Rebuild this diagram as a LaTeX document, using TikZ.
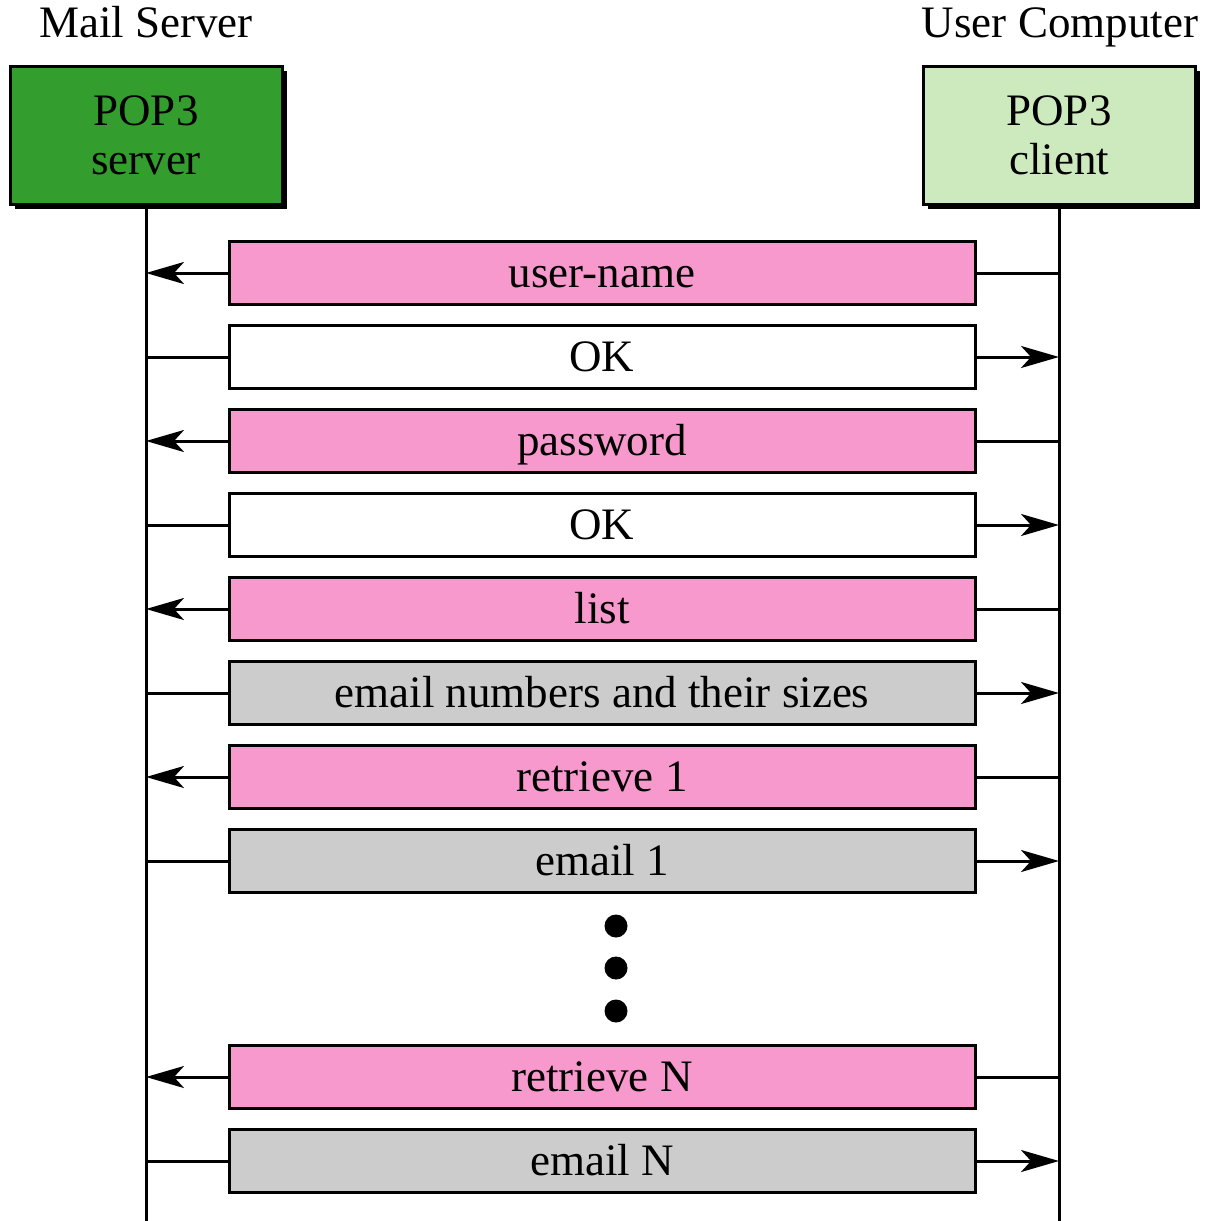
\documentclass[tikz,border=0pt]{standalone}
\usepackage{fontspec}
\setmainfont{Liberation Serif}
\usetikzlibrary{arrows.meta,shadows}
\definecolor{srvgreen}{RGB}{51,158,46}
\definecolor{cligreen}{RGB}{204,234,189}
\definecolor{msgpink}{RGB}{247,153,204}
\definecolor{msggray}{RGB}{204,204,204}
\begin{document}
\begin{tikzpicture}[x=1pt,y=-1pt,
  every node/.style={font=\fontsize{45}{49}\selectfont},
  party/.style={draw=black,line width=3pt,minimum width=272pt,minimum height=138pt,align=center,inner sep=0pt,
    drop shadow={shadow xshift=5pt,shadow yshift=-5pt,fill=black,opacity=1}},
  msg/.style={draw=black,line width=3pt,minimum width=746pt,minimum height=63pt,inner sep=0pt,
    text height=29.5pt,text depth=0pt},
  req/.style={msg,fill=msgpink},
  okmsg/.style={msg,fill=white},
  data/.style={msg,fill=msggray},
  conn/.style={line width=3pt},
  arr/.style={line width=3pt,-{Stealth[length=38pt,width=22pt,inset=10pt]}},
  dot/.style={circle,fill=black,inner sep=0pt,minimum size=23pt}
]
\useasboundingbox (0,0) rectangle (1207,1221);
\node[party,fill=srvgreen] (srv) at (146,135) {POP3\\server};
\node[party,fill=cligreen] (cli) at (1059,135) {POP3\\client};
\node[anchor=base] (tsrv) at (146,37) {Mail Server};
\node[anchor=base] (tcli) at (1060,37) {User Computer};
\coordinate (srvend) at (146,1221);
\coordinate (cliend) at (1059,1221);
\draw[conn] (srv.south) -- (srvend);
\draw[conn] (cli.south) -- (cliend);
% messages
\node[req] (m1) at (602,273) {user-name};
\node[okmsg] (m2) at (602,357) {OK};
\node[req] (m3) at (602,441) {password};
\node[okmsg] (m4) at (602,525) {OK};
\node[req] (m5) at (602,609) {list};
\node[data] (m6) at (602,693) {email numbers and their sizes};
\node[req] (m7) at (602,777) {retrieve 1};
\node[data] (m8) at (602,861) {email 1};
\node[req] (m9) at (602,1077) {retrieve N};
\node[data] (m10) at (602,1161) {email N};
\node[dot] (d1) at (616,926) {};
\node[dot] (d2) at (616,968) {};
\node[dot] (d3) at (616,1011) {};
% requests: client -> server
\foreach \m in {m1,m3,m5,m7,m9}{
  \draw[conn] (\m.east) -- (\m.east -| cli.south);
  \draw[arr] (\m.west) -- (\m.west -| srv.south);
}
% responses: server -> client
\foreach \m in {m2,m4,m6,m8,m10}{
  \draw[conn] (\m.west -| srv.south) -- (\m.west);
  \draw[arr] (\m.east) -- (\m.east -| cli.south);
}
\end{tikzpicture}
\end{document}
